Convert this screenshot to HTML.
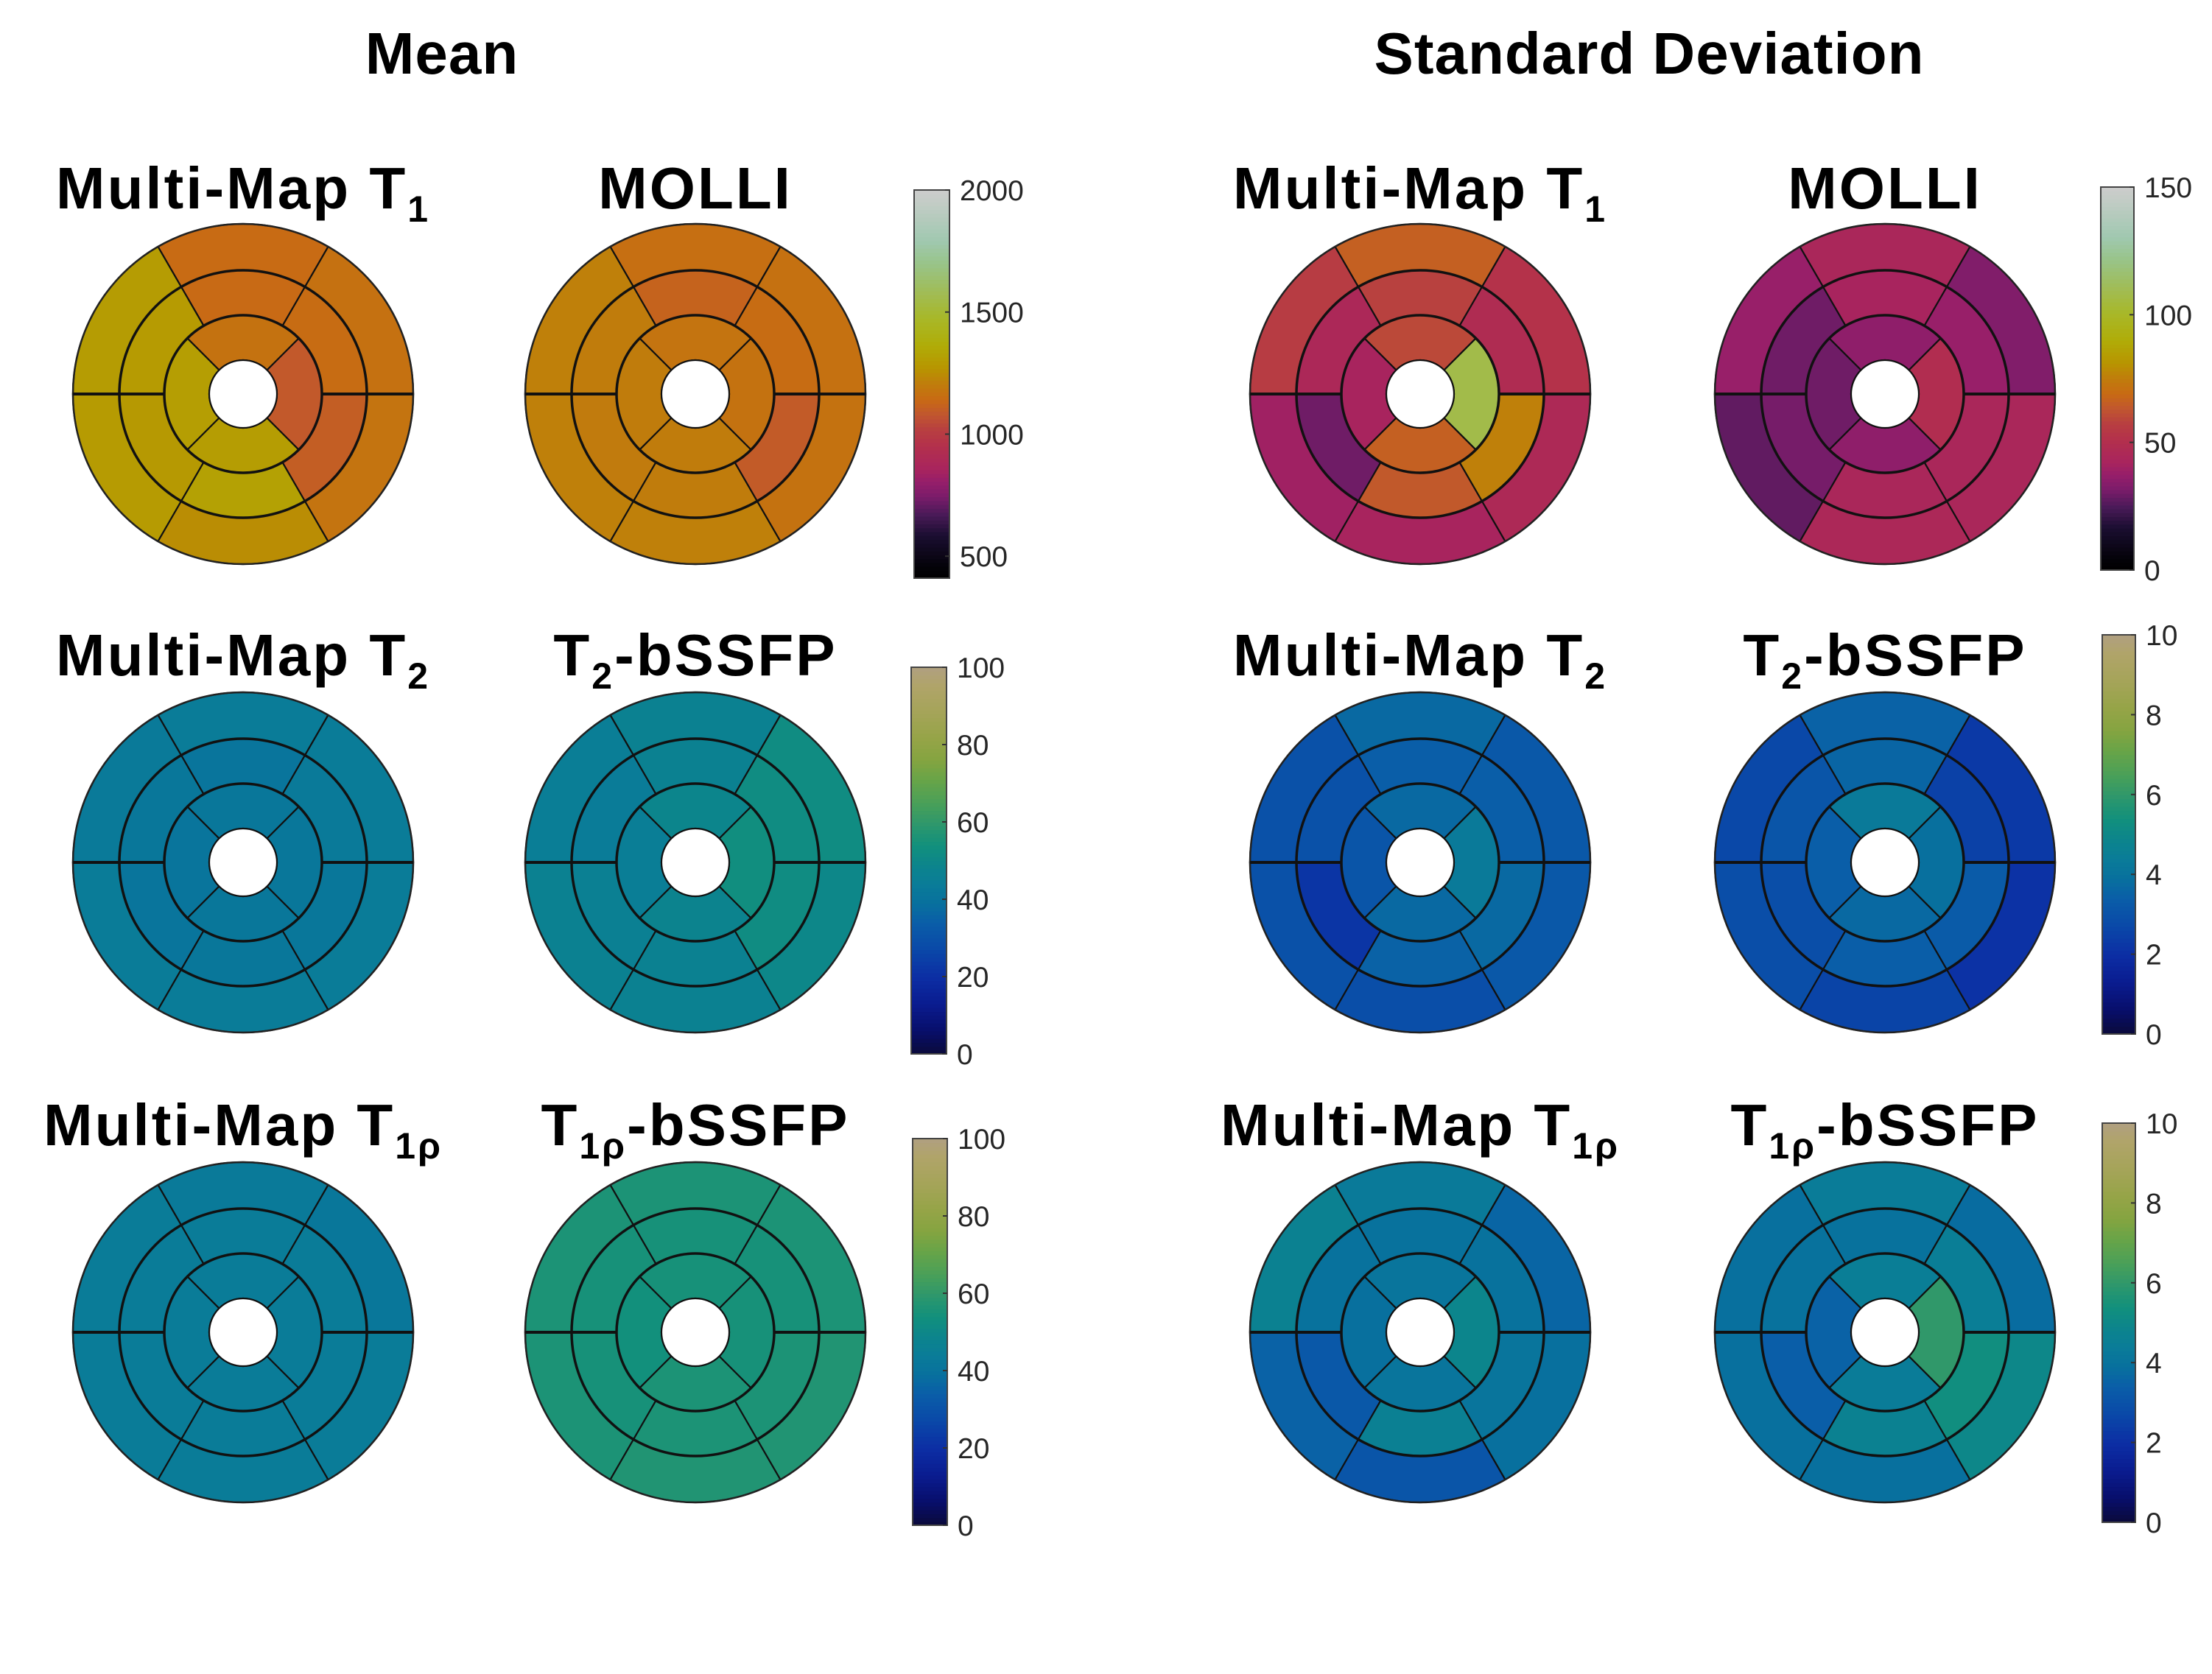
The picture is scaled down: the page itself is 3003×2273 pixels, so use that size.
<!DOCTYPE html>
<html><head><meta charset="utf-8"><style>
html,body{margin:0;padding:0;background:#fff}
svg{display:block}
</style></head><body>
<svg id="fig" width="3003" height="2273" viewBox="0 0 3003 2273" xmlns="http://www.w3.org/2000/svg">
<rect width="3003" height="2273" fill="#fff"/>
<text x="600" y="100" font-family="Liberation Sans, sans-serif" font-weight="bold" font-size="80" letter-spacing="1" text-anchor="middle">Mean</text>
<text x="2239" y="100" font-family="Liberation Sans, sans-serif" font-weight="bold" font-size="80" letter-spacing="1" text-anchor="middle">Standard Deviation</text>
<g id="plots"></g>
</svg>
<script>
// segment order: basal [top, upper-left, lower-left, bottom, lower-right, upper-right], mid same, apical [top, left, bottom, right]
const mmT1Mean    = [1145,1300,1295,1250,1175,1165, 1140,1295,1290,1320,1105,1150, 1170,1310,1305,1090];
const molliMean   = [1160,1215,1215,1215,1170,1165, 1120,1205,1200,1205,1095,1150, 1175,1205,1205,1170];
const mmT1Sd      = [66,56,40,42,46,52, 58,45,30,64,76,48, 60,42,66,108];
const molliSd     = [44,38,28,45,44,33, 42,30,31,44,44,38, 36,30,36,49];
const mmT2Mean    = [44,43,44,44,44,44, 41,42,41,42,42,43, 42,41,42,42];
const t2bMean     = [47,45,47,47,50,52, 47,44,46,47,52,52, 49,45,48,53];
const mmT2Sd      = [3.7,3.0,3.0,2.9,3.2,3.2, 3.4,3.0,2.2,3.5,3.7,3.4, 3.7,3.1,3.7,4.3];
const t2bSd       = [3.5,2.7,2.9,2.6,2.1,2.3, 3.6,3.1,2.9,3.4,3.3,2.5, 4.3,3.4,3.7,3.9];
const mmT1rMean   = [43,44,44,44,44,42, 44,44,44,44,44,44, 44,44,44,44];
const t1rbMean    = [56,56,56,57,57,56, 55,55,55,56,56,55, 55,54,56,55];
const mmT1rSd     = [4.3,4.7,3.5,3.1,3.9,3.6, 4.0,4.0,3.2,4.6,4.1,4.0, 4.1,3.9,4.1,4.9];
const t1rbSd      = [4.4,3.9,3.9,3.9,5.0,3.8, 4.0,4.0,3.4,4.7,5.3,4.5, 4.5,3.5,4.4,6.0];
const ticksT1Mean = [500,1000,1500,2000];
const ticksT1Sd   = [0,50,100,150];
const ticksMean100 = [0,20,40,60,80,100];
const ticksSd10   = [0,2,4,6,8,10];

const lipari = [[0,'#000000'],[0.03,'#040208'],[0.11,'#1a0e30'],[0.165,'#4a1a58'],[0.21,'#7a1c6a'],[0.25,'#961e6a'],[0.28,'#a8245e'],[0.34,'#b3304c'],[0.385,'#b84040'],[0.42,'#c05530'],[0.46,'#c86a14'],[0.5,'#c07c0c'],[0.54,'#b89400'],[0.6,'#b0ac08'],[0.67,'#a8b828'],[0.74,'#a0bc58'],[0.81,'#98c488'],[0.87,'#a0c8b0'],[0.96,'#c0ccc4'],[1,'#cccccc']];
const navia = [[0,'#0a0a3a'],[0.06,'#080e6a'],[0.13,'#0a1c90'],[0.2,'#0c2ea4'],[0.27,'#0a48a8'],[0.34,'#0a5ea8'],[0.39,'#08709e'],[0.44,'#0a7c98'],[0.49,'#0c858c'],[0.54,'#12907c'],[0.6,'#30986a'],[0.65,'#4aa058'],[0.71,'#68a448'],[0.76,'#84a440'],[0.82,'#96a448'],[0.88,'#a4a458'],[0.95,'#b0a468'],[1,'#b0a080']];

function hex(h){return [1,3,5].map(i=>parseInt(h.substr(i,2),16));}
function cmap(stops,f){
  f=Math.max(0,Math.min(1,f));
  for(let i=1;i<stops.length;i++){
    if(f<=stops[i][0]){
      const a=stops[i-1],b=stops[i],t=(f-a[0])/(b[0]-a[0]||1);
      const ca=hex(a[1]),cb=hex(b[1]);
      return 'rgb('+ca.map((v,k)=>Math.round(v+(cb[k]-v)*t)).join(',')+')';
    }
  }
  return stops[stops.length-1][1];
}
const NS='http://www.w3.org/2000/svg';
const root=document.getElementById('plots');
function mk(tag,attrs,parent){const e=document.createElementNS(NS,tag);for(const k in attrs)e.setAttribute(k,attrs[k]);(parent||root).appendChild(e);return e;}

const R=[46,107,168,231];
function sector(cx,cy,r0,r1,a0,a1){
  const p=(r,a)=>[cx+r*Math.cos(a*Math.PI/180),cy-r*Math.sin(a*Math.PI/180)];
  const [x0,y0]=p(r1,a0),[x1,y1]=p(r1,a1),[x2,y2]=p(r0,a1),[x3,y3]=p(r0,a0);
  return `M${x0},${y0} A${r1},${r1} 0 0 0 ${x1},${y1} L${x2},${y2} A${r0},${r0} 0 0 1 ${x3},${y3} Z`;
}
function bullseye(cx,cy,vals,stops,vmin,vmax,name){
  const g=mk('g',{});
  
  
  const col=v=>cmap(stops,(v-vmin)/(vmax-vmin));
  const six=[60,120,180,240,300,0];
  for(let ring=0;ring<2;ring++){
    const r1=ring===0?R[3]:R[2], r0=ring===0?R[2]:R[1];
    for(let s=0;s<6;s++){
      const a0=six[s];
      const e=mk('path',{d:sector(cx,cy,r0,r1,a0,a0+60),fill:col(vals[ring*6+s]),stroke:'#111','stroke-width':2.2},g);
      
      
    }
  }
  const four=[45,135,225,315];
  for(let s=0;s<4;s++){
    const e=mk('path',{d:sector(cx,cy,R[0],R[1],four[s],four[s]+90),fill:col(vals[12+s]),stroke:'#111','stroke-width':2.2},g);
    
    
  }
  [R[1],R[2]].forEach(r=>{mk('circle',{cx:cx,cy:cy,r:r,fill:'none',stroke:'#111','stroke-width':3.5},g);});
  mk('circle',{cx:cx,cy:cy,r:R[3],fill:'none',stroke:'#222','stroke-width':2.5},g);
  mk('line',{x1:cx-R[3],y1:cy,x2:cx-R[1],y2:cy,stroke:'#111','stroke-width':4},g);
  mk('line',{x1:cx+R[1],y1:cy,x2:cx+R[3],y2:cy,stroke:'#111','stroke-width':4},g);
  mk('circle',{cx:cx,cy:cy,r:R[0],fill:'#fff',stroke:'#111','stroke-width':2.2},g);
}
function title(cx,y,main,sub,after,name){
  const t=mk('text',{x:cx,y:y,'font-family':'Liberation Sans, sans-serif','font-weight':'bold','font-size':80,'letter-spacing':3,'text-anchor':'middle'});
  
  
  t.appendChild(document.createTextNode(main));
  const s=mk('tspan',{'font-size':50,dy:18},t); s.textContent=sub;
  if(after){const a=mk('tspan',{dy:-18},t); a.textContent=after;}
}
function colorbar(x0,x1,y0,y1,stops,vmin,vmax,ticks,name){
  const g=mk('g',{});
  
  
  const n=100;
  for(let i=0;i<n;i++){
    const f0=i/n,f1=(i+1)/n;
    mk('rect',{x:x0,y:y1-(y1-y0)*f1,width:x1-x0,height:(y1-y0)/n+0.8,fill:cmap(stops,(f0+f1)/2)},g);
  }
  mk('rect',{x:x0,y:y0,width:x1-x0,height:y1-y0,fill:'none',stroke:'#444','stroke-width':2},g);
  ticks.forEach(v=>{
    const y=y1-(v-vmin)/(vmax-vmin)*(y1-y0);
    mk('line',{x1:x1-6,y1:y,x2:x1,y2:y,stroke:'#333','stroke-width':2},g);
    const t=mk('text',{x:x1+14,y:y+14,'font-family':'Liberation Sans, sans-serif','font-size':39,fill:'#262626'},g);
    
    
    t.textContent=v;
  });
}
const cx=[330,944,1928,2559], cy=[535,1171,1809], ty=[283,917,1555];
bullseye(cx[0],cy[0],mmT1Mean,lipari,410,2000,'multimap-t1-mean');
bullseye(cx[1],cy[0],molliMean,lipari,410,2000,'molli-mean');
bullseye(cx[2],cy[0],mmT1Sd,lipari,0,150,'multimap-t1-sd');
bullseye(cx[3],cy[0],molliSd,lipari,0,150,'molli-sd');
bullseye(cx[0],cy[1],mmT2Mean,navia,0,100,'multimap-t2-mean');
bullseye(cx[1],cy[1],t2bMean,navia,0,100,'t2-bssfp-mean');
bullseye(cx[2],cy[1],mmT2Sd,navia,0,10,'multimap-t2-sd');
bullseye(cx[3],cy[1],t2bSd,navia,0,10,'t2-bssfp-sd');
bullseye(cx[0],cy[2],mmT1rMean,navia,0,100,'multimap-t1rho-mean');
bullseye(cx[1],cy[2],t1rbMean,navia,0,100,'t1rho-bssfp-mean');
bullseye(cx[2],cy[2],mmT1rSd,navia,0,10,'multimap-t1rho-sd');
bullseye(cx[3],cy[2],t1rbSd,navia,0,10,'t1rho-bssfp-sd');

[0,2].forEach(c=>{
  title(cx[c],ty[0],'Multi-Map T','1','', 'multimap-t1-title');
  title(cx[c],ty[1],'Multi-Map T','2','', 'multimap-t2-title');
  title(cx[c],ty[2],'Multi-Map T','1ρ','', 'multimap-t1rho-title');
  const m=mk('text',{x:cx[c+1],y:ty[0],'font-family':'Liberation Sans, sans-serif','font-weight':'bold','font-size':80,'letter-spacing':3,'text-anchor':'middle'});
  
  
  m.textContent='MOLLI';
  title(cx[c+1],ty[1],'T','2','-bSSFP','t2-bssfp-title');
  title(cx[c+1],ty[2],'T','1ρ','-bSSFP','t1rho-bssfp-title');
});

colorbar(1241,1289,258,785,lipari,410,2000,ticksT1Mean,'colorbar-t1-mean');
colorbar(2852,2897,254,774,lipari,0,150,ticksT1Sd,'colorbar-t1-sd');
colorbar(1237,1285,906,1431,navia,0,100,ticksMean100,'colorbar-t2-mean');
colorbar(2854,2899,862,1404,navia,0,10,ticksSd10,'colorbar-t2-sd');
colorbar(1239,1286,1546,2071,navia,0,100,ticksMean100,'colorbar-t1rho-mean');
colorbar(2854,2899,1525,2067,navia,0,10,ticksSd10,'colorbar-t1rho-sd');
</script>
</body></html>
